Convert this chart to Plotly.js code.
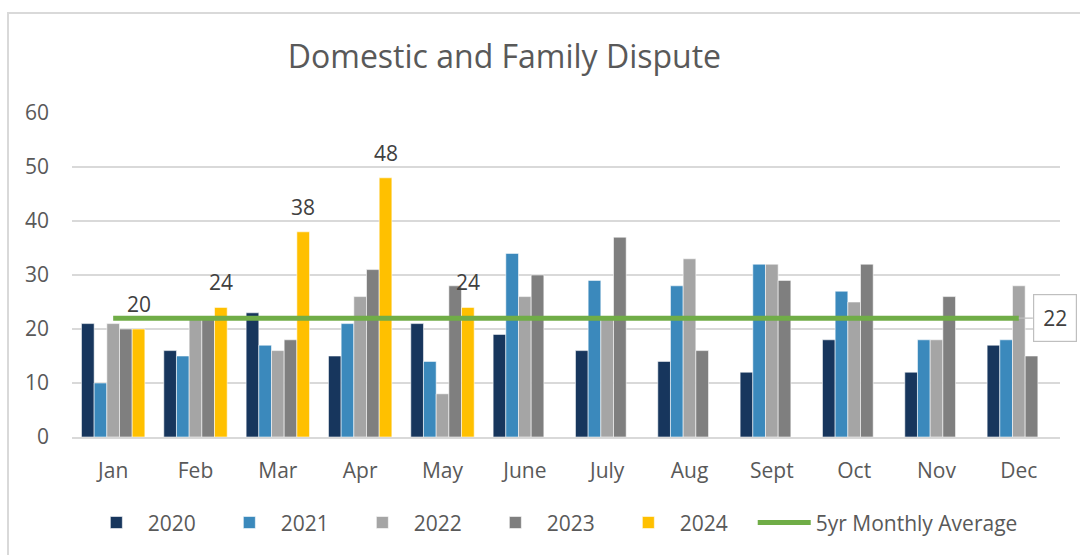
<!DOCTYPE html>
<html>
<head>
<meta charset="utf-8">
<script src="https://cdn.plot.ly/plotly-3.0.1.min.js"></script>
<style>
  html, body { margin: 0; padding: 0; background: #ffffff; overflow: hidden; width: 1080px; height: 555px; }
  #chart { position: absolute; left: 0; top: 0; width: 1080px; height: 555px; }
  #frame { position: absolute; left: 7px; top: 12px; width: 1073px; height: 543px;
           border-left: 2px solid #d9d9d9; border-top: 2px solid #d9d9d9;
           box-sizing: border-box; pointer-events: none; }
</style>
</head>
<body>
<div id="chart"></div>
<div id="frame"></div>
<script>
const months = ["Jan","Feb","Mar","Apr","May","June","July","Aug","Sept","Oct","Nov","Dec"];
const y2020 = [21,16,23,15,21,19,16,14,12,18,12,17];
const y2021 = [10,15,17,21,14,34,29,28,32,27,18,18];
const y2022 = [21,22,16,26,8,26,22,33,32,25,18,28];
const y2023 = [20,22,18,31,28,30,37,16,29,32,26,15];
const y2024 = [20,24,38,48,24,null,null,null,null,null,null,null];
const avg5yr = [22,22,22,22,22,22,22,22,22,22,22,22];
const yTicks = [0,10,20,30,40,50,60];

const FONT = "Open Sans, Lato, sans-serif";
const edge = {width: 0.8, color: "rgba(255,255,255,0.7)"};

function barTrace(name, vals, color) {
  return {
    type: "bar", name: name, x: months, y: vals,
    marker: {color: color, line: edge},
    hoverinfo: "x+y+name", legend: "legend"
  };
}

const data = [
  barTrace("2020", y2020, "#17365d"),
  barTrace("2021", y2021, "#3b89bc"),
  barTrace("2022", y2022, "#a5a5a5"),
  barTrace("2023", y2023, "#7f7f7f"),
  barTrace("2024", y2024, "#ffc000"),
  {
    type: "scatter", mode: "lines", name: "5yr Monthly Average",
    x: months, y: avg5yr,
    line: {color: "#70ad47", width: 5},
    legend: "legend2"
  }
];

// data labels for 2024 bars (2024 is the 5th of 5 bar slots in each group)
const slotOffset = 0.77 * 0.4; // offset of 5th slot from category centre
const labelAnns = [];
y2024.forEach((v, i) => {
  if (v === null) return;
  labelAnns.push({
    x: i + slotOffset, y: v, xref: "x", yref: "y",
    text: String(v), showarrow: false,
    yanchor: "bottom", yshift: 9,
    font: {family: FONT, size: 21, color: "#404040"}
  });
});

const legendFont = {family: FONT, size: 21, color: "#595959"};
const lastIdx = months.length - 1;
const layout = {
  width: 1080, height: 555,
  paper_bgcolor: "#ffffff", plot_bgcolor: "#ffffff",
  margin: {l: 72, r: 20, t: 113, b: 118},
  font: {family: FONT, color: "#595959", size: 21},
  title: {
    text: "Domestic and Family Dispute",
    font: {family: FONT, size: 32, color: "#595959"},
    x: 0.4377, xref: "paper", xanchor: "center",
    y: 61, yref: "container", yanchor: "middle"
  },
  barmode: "group",
  bargap: 0.23,
  bargroupgap: 0,
  xaxis: {
    type: "category",
    range: [-0.5, 11.5],
    showgrid: false,
    showline: true, linecolor: "#d9d9d9", linewidth: 1.5,
    ticks: "", ticklabelstandoff: 14,
    tickfont: {family: FONT, size: 21, color: "#595959"}
  },
  yaxis: {
    range: [0, 60],
    tickvals: yTicks,
    showgrid: true, gridcolor: "#d9d9d9", gridwidth: 1.5,
    zeroline: false, showline: false,
    ticks: "", ticklabelstandoff: 22,
    tickfont: {family: FONT, size: 21, color: "#595959"}
  },
  showlegend: true,
  legend: {
    orientation: "h",
    x: 0.013, xanchor: "left",
    y: -0.265, yanchor: "middle",
    font: legendFont,
    traceorder: "normal",
    itemwidth: 53,
    entrywidth: 65, entrywidthmode: "pixels"
  },
  legend2: {
    orientation: "h",
    x: 0.689, xanchor: "left",
    y: -0.265, yanchor: "middle",
    font: legendFont,
    itemwidth: 53
  },
  annotations: labelAnns.concat([
    {
      x: lastIdx, y: avg5yr[lastIdx], xref: "x", yref: "y",
      text: "22", showarrow: true,
      ax: 14, ay: 0, arrowhead: 0, arrowcolor: "#bfbfbf", arrowwidth: 1.2,
      xanchor: "left",
      bordercolor: "#bfbfbf", borderwidth: 1.2, borderpad: 9,
      bgcolor: "#ffffff",
      font: {family: FONT, size: 21, color: "#404040"}
    }
  ])
};

Plotly.newPlot("chart", data, layout, {displayModeBar: false, responsive: false});
</script>
</body>
</html>
